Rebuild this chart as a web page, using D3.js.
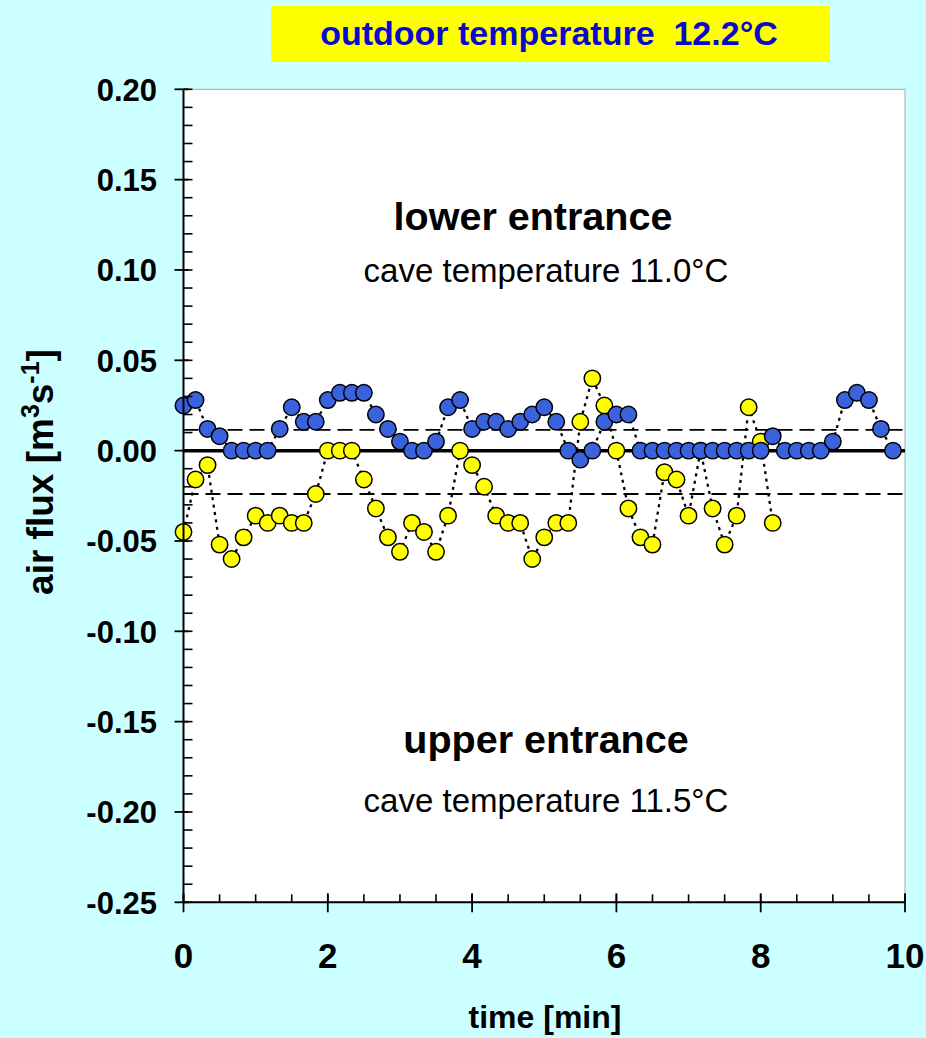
<!DOCTYPE html>
<html>
<head>
<meta charset="utf-8">
<script src="https://cdn.jsdelivr.net/npm/d3@7/dist/d3.min.js"></script>
<style>
  html, body { margin: 0; padding: 0; background: #ccffff; }
  svg { display: block; }
  text { font-family: "Liberation Sans", Arial, sans-serif; }
</style>
</head>
<body>
<svg id="chart" width="926" height="1038"></svg>
<script>
// Sampling times in seconds (10 s interval)
const timeSec = [
  0, 10, 20, 30, 40, 50, 60, 70, 80, 90,
  100, 110, 120, 130, 140, 150, 160, 170, 180, 190,
  200, 210, 220, 230, 240, 250, 260, 270, 280, 290,
  300, 310, 320, 330, 340, 350, 360, 370, 380, 390,
  400, 410, 420, 430, 440, 450, 460, 470, 480, 490,
  500, 510, 520, 530, 540, 550, 560, 570, 580, 590
];

// Air flux at the lower entrance [m3/s]
const lowerFlux = [
  0.025, 0.028, 0.012, 0.008, 0, 0, 0, 0, 0.012, 0.024,
  0.016, 0.016, 0.028, 0.032, 0.032, 0.032, 0.020, 0.012, 0.005, 0,
  0, 0.005, 0.024, 0.028, 0.012, 0.016, 0.016, 0.012, 0.016, 0.020,
  0.024, 0.016, 0, -0.005, 0, 0.016, 0.020, 0.020, 0, 0,
  0, 0, 0, 0, 0, 0, 0, 0, 0, 0.008,
  0, 0, 0, 0, 0.005, 0.028, 0.032, 0.028, 0.012, 0
];

// Air flux at the upper entrance [m3/s] (first 50 samples)
const upperFlux = [
  -0.045, -0.016, -0.008, -0.052, -0.060, -0.048, -0.036, -0.040, -0.036, -0.040,
  -0.040, -0.024, 0, 0, 0, -0.016, -0.032, -0.048, -0.056, -0.040,
  -0.045, -0.056, -0.036, 0, -0.008, -0.020, -0.036, -0.040, -0.040, -0.060,
  -0.048, -0.040, -0.040, 0.016, 0.040, 0.025, 0, -0.032, -0.048, -0.052,
  -0.012, -0.016, -0.036, 0, -0.032, -0.052, -0.036, 0.024, 0.005, -0.040
];

// Detection limits (dashed lines)
const thresholds = [0.0115, -0.024];

const yTicks = [0.20, 0.15, 0.10, 0.05, 0.00, -0.05, -0.10, -0.15, -0.20, -0.25];
const xTicks = [0, 2, 4, 6, 8, 10];

const svg = d3.select("#chart");

const x = d3.scaleLinear().domain([0, 10]).range([183.5, 905]);
const y = d3.scaleLinear().domain([-0.25, 0.20]).range([902.3, 89.3]);

// Title box
svg.append("rect").attr("x", 271).attr("y", 6).attr("width", 559).attr("height", 56)
  .attr("fill", "#ffff00");
svg.append("text").attr("x", 549).attr("y", 45).attr("text-anchor", "middle")
  .attr("font-size", 34).attr("font-weight", "bold").attr("fill", "#0a0acc")
  .attr("xml:space", "preserve")
  .text("outdoor temperature  12.2°C");

// Plot area
svg.append("rect")
  .attr("x", x(0)).attr("y", y(0.20))
  .attr("width", x(10) - x(0)).attr("height", y(-0.25) - y(0.20))
  .attr("fill", "#ffffff").attr("stroke", "#aaa").attr("stroke-width", 1);

// Annotations
const ann = svg.append("g").attr("fill", "#000");
ann.append("text").attr("x", 533).attr("y", 230).attr("text-anchor", "middle")
  .attr("font-size", 39.5).attr("font-weight", "bold").text("lower entrance");
ann.append("text").attr("x", 546).attr("y", 282).attr("text-anchor", "middle")
  .attr("font-size", 33).text("cave temperature 11.0°C");
ann.append("text").attr("x", 546).attr("y", 753).attr("text-anchor", "middle")
  .attr("font-size", 39.5).attr("font-weight", "bold").text("upper entrance");
ann.append("text").attr("x", 546).attr("y", 812).attr("text-anchor", "middle")
  .attr("font-size", 33).text("cave temperature 11.5°C");

// Threshold lines
svg.selectAll("line.thr").data(thresholds).enter().append("line")
  .attr("class", "thr")
  .attr("x1", x(0)).attr("x2", x(10))
  .attr("y1", d => y(d)).attr("y2", d => y(d))
  .attr("stroke", "#000").attr("stroke-width", 1.8)
  .attr("stroke-dasharray", "15,7");

// Zero line
svg.append("line").attr("x1", x(0)).attr("x2", x(10))
  .attr("y1", y(0)).attr("y2", y(0))
  .attr("stroke", "#000").attr("stroke-width", 3.5);

// Series
const series = [
  { values: upperFlux, fill: "#ffff00" },
  { values: lowerFlux, fill: "#3a62dc" }
];

const line = d3.line().x(d => x(d[0] / 60)).y(d => y(d[1]));

series.forEach(s => {
  const pts = s.values.map((v, i) => [timeSec[i], v]);
  svg.append("path").datum(pts).attr("d", line)
    .attr("fill", "none").attr("stroke", "#000").attr("stroke-width", 2.3)
    .attr("stroke-dasharray", "3,4.5");
});

series.forEach(s => {
  const pts = s.values.map((v, i) => [timeSec[i], v]);
  svg.append("g").selectAll("circle").data(pts).enter().append("circle")
    .attr("cx", d => x(d[0] / 60)).attr("cy", d => y(d[1])).attr("r", 8.2)
    .attr("fill", s.fill).attr("stroke", "#000").attr("stroke-width", 1.5);
});

// Y axis
const yAxis = svg.append("g");
yAxis.append("line").attr("x1", x(0)).attr("x2", x(0))
  .attr("y1", y(0.20)).attr("y2", y(-0.25)).attr("stroke", "#000").attr("stroke-width", 2);
const yMinor = d3.range(-25, 21).map(k => k / 100);
yAxis.selectAll("line.ymin").data(yMinor).enter().append("line")
  .attr("x1", x(0)).attr("x2", x(0) + 9)
  .attr("y1", d => y(d)).attr("y2", d => y(d))
  .attr("stroke", "#000").attr("stroke-width", 1.6);
yAxis.selectAll("line.ymaj").data(yTicks).enter().append("line")
  .attr("x1", x(0) - 9).attr("x2", x(0) + 5)
  .attr("y1", d => y(d)).attr("y2", d => y(d))
  .attr("stroke", "#000").attr("stroke-width", 1.8);
yAxis.selectAll("text").data(yTicks).enter().append("text")
  .attr("x", 157).attr("y", d => y(d) + 11.5).attr("text-anchor", "end")
  .attr("font-size", 31).attr("font-weight", "bold")
  .text(d => d3.format(".2f")(d).replace("−", "-"));

// X axis
const xAxis = svg.append("g");
xAxis.append("line").attr("x1", x(0)).attr("x2", x(10))
  .attr("y1", y(-0.25)).attr("y2", y(-0.25)).attr("stroke", "#000").attr("stroke-width", 2);
const xMinor = d3.range(0, 21).map(k => k / 2);
xAxis.selectAll("line.xmin").data(xMinor).enter().append("line")
  .attr("x1", d => x(d)).attr("x2", d => x(d))
  .attr("y1", y(-0.25) - 8).attr("y2", y(-0.25))
  .attr("stroke", "#000").attr("stroke-width", 1.6);
xAxis.selectAll("line.xmaj").data(xTicks).enter().append("line")
  .attr("x1", d => x(d)).attr("x2", d => x(d))
  .attr("y1", y(-0.25) - 9).attr("y2", y(-0.25) + 10)
  .attr("stroke", "#000").attr("stroke-width", 1.8);
xAxis.selectAll("text").data(xTicks).enter().append("text")
  .attr("x", d => x(d)).attr("y", 968).attr("text-anchor", "middle")
  .attr("font-size", 35).attr("font-weight", "bold")
  .text(d => d);

// Axis titles
svg.append("text").attr("x", 545).attr("y", 1028).attr("text-anchor", "middle")
  .attr("font-size", 32).attr("font-weight", "bold").text("time [min]");

const yt = svg.append("text")
  .attr("transform", "translate(53,472) rotate(-90)")
  .attr("text-anchor", "middle").attr("font-size", 37).attr("font-weight", "bold");
yt.append("tspan").text("air flux [m");
yt.append("tspan").attr("dy", -14).attr("font-size", 25).text("3");
yt.append("tspan").attr("dy", 14).text("s");
yt.append("tspan").attr("dy", -14).attr("font-size", 25).text("-1");
yt.append("tspan").attr("dy", 14).text("]");
</script>
</body>
</html>
